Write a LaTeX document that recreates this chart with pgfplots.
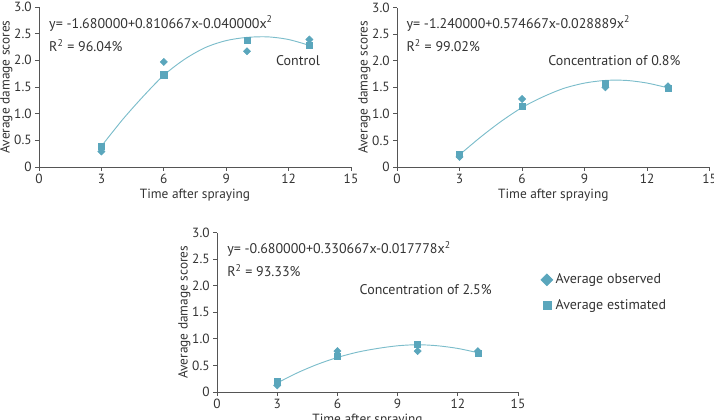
\documentclass[border=0pt]{standalone}
\usepackage{fontspec}
\setmainfont{PT Sans}
\usepackage{pgfplots}
\pgfplotsset{compat=1.18}
\definecolor{mk}{HTML}{5AA6BC}
\definecolor{cv}{HTML}{7CBDCB}
\definecolor{ax}{HTML}{555555}
\definecolor{tx}{HTML}{333333}
\tikzset{lbl/.style={text=tx, font=\fontsize{10.5}{12}\selectfont, inner sep=0pt}}
\pgfplotsset{
  panel/.style={
    scale only axis,
    anchor=origin,
    xmin=0, xmax=15, ymin=0, ymax=3,
    axis x line*=bottom, axis y line*=left,
    axis line style={ax, line width=0.6pt, -},
    xtick={0,3,6,9,12,15},
    ytick={0,0.5,1,1.5,2,2.5,3},
    yticklabels={0,0.5,1.0,1.5,2.0,2.5,3.0},
    tick align=outside,
    major tick length=3pt,
    tick style={ax, line width=0.6pt},
    every tick label/.append style={font=\fontsize{10}{11}\selectfont, text=tx},
    /pgf/number format/assume math mode=true,
    xticklabel style={yshift=1pt},
    yticklabel style={xshift=1pt},
    xlabel={Time after spraying},
    ylabel={Average damage scores},
    label style={font=\fontsize{10}{11}\selectfont, text=tx},
    xlabel style={yshift=3pt},
    ylabel style={yshift=-5.5pt},
    clip=false,
  },
  obs/.style={only marks, mark=square*, mark size=1.9pt, mk, mark options={fill=mk, draw=mk, rotate=45}},
  est/.style={only marks, mark=square*, mark size=2.3pt, mk, mark options={fill=mk, draw=mk}},
  fit/.style={cv, line width=0.7pt, smooth, no marks},
}
\begin{document}
\begin{tikzpicture}
% 1px = 0.75pt; picture 714x420 px = 535.5pt x 315pt
% Panel 1
\begin{axis}[panel, at={(29.25pt,189.75pt)}, width=234pt, height=120pt]
\addplot[fit] coordinates {(3,0.39) (4,0.88) (5,1.32) (6,1.72) (7,2.02) (8,2.24) (9,2.37) (10,2.43) (11,2.44) (12,2.39) (13,2.28)};
\addplot[obs] coordinates {(3,0.29) (6,1.97) (10,2.17) (13,2.39)};
\addplot[est] coordinates {(3,0.39) (6,1.73) (10,2.37) (13,2.28)};
\node[anchor=west, lbl] at (axis cs:0.48,2.69) {y= -1.680000+0.810667x-0.040000x\textsuperscript{2}};
\node[anchor=west, lbl] at (axis cs:0.48,2.28) {R\textsuperscript{2} = 96.04\%};
\node[lbl] at (axis cs:12.45,1.99) {Control};
\end{axis}
% Panel 2
\begin{axis}[panel, at={(297.75pt,189.75pt)}, width=234.5pt, height=119.5pt]
\addplot[fit] coordinates {(3,0.23) (4,0.56) (5,0.86) (6,1.12) (7,1.32) (8,1.48) (9,1.58) (10,1.63) (11,1.63) (12,1.58) (13,1.49)};
\addplot[obs] coordinates {(3,0.19) (6,1.28) (10,1.50) (13,1.52)};
\addplot[est] coordinates {(3,0.245) (6,1.15) (10,1.58) (13,1.48)};
\node[anchor=west, lbl] at (axis cs:0.45,2.70) {y= -1.240000+0.574667x-0.028889x\textsuperscript{2}};
\node[anchor=west, lbl] at (axis cs:0.45,2.29) {R\textsuperscript{2} = 99.02\%};
\node[lbl] at (axis cs:10.43,2.0) {Concentration of 0.8\%};
\end{axis}
% Panel 3
\begin{axis}[panel, at={(162.75pt,21pt)}, width=225.75pt, height=119.5pt,
  legend style={at={(rel axis cs:1.075,0.76)}, anchor=north west, draw=none, fill=none,
    font=\fontsize{10.5}{12}\selectfont, text=tx, row sep=6pt, inner sep=0pt,
    nodes={xshift=7pt}},
  legend cell align=left]
\addplot[fit, forget plot] coordinates {(3,0.17) (4,0.36) (5,0.52) (6,0.65) (7,0.75) (8,0.82) (9,0.87) (10,0.89) (11,0.87) (12,0.82) (13,0.74)};
\addplot[obs, legend image post style={mark size=3.2pt}] coordinates {(3,0.125) (6,0.77) (10,0.77) (13,0.77)};
\addplot[est, legend image post style={mark size=3pt}] coordinates {(3,0.20) (6,0.665) (10,0.90) (13,0.73)};
\legend{Average observed, Average estimated}
\node[anchor=west, lbl] at (axis cs:0.5,2.69) {y= -0.680000+0.330667x-0.017778x\textsuperscript{2}};
\node[anchor=west, lbl] at (axis cs:0.5,2.29) {R\textsuperscript{2} = 93.33\%};
\node[lbl] at (axis cs:10.4,1.93) {Concentration of 2.5\%};
\end{axis}
\pgfresetboundingbox
\path[use as bounding box] (0pt,0pt) rectangle (535.5pt,315pt);
\end{tikzpicture}
\end{document}
